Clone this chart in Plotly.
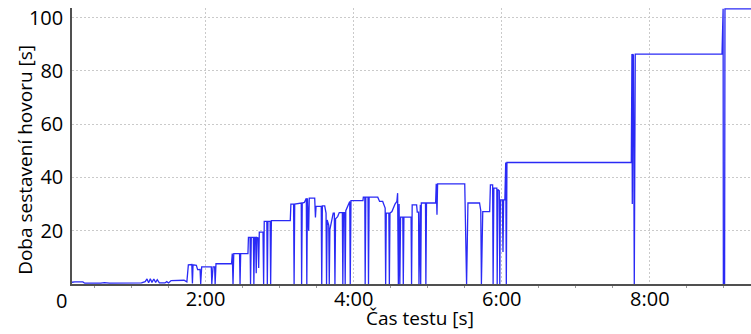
import plotly.graph_objects as go

# Call setup duration over the course of the test (both in seconds)
time_s = [
    11.0, 14.0, 20.5, 22.0, 35.0, 38.0, 42.0, 52.0, 58.0, 64.0, 68.0, 71.0,
    72.5, 73.8, 75.2, 76.5, 78.0, 79.5, 80.8, 82.5, 87.0, 88.5, 90.0, 92.0,
    102.5, 104.8,
    106.0, 108.8, 109.3, 109.8, 112.5, 113.5, 115.5, 116.0, 116.8, 124.6,
    125.0, 126.0, 127.3, 127.7, 128.4, 141.0, 141.6, 142.2, 142.8, 147.5,
    147.9, 148.4, 154.3, 154.7, 156.0, 156.4, 157.0, 158.7, 159.1, 159.6,
    160.5, 161.0, 161.5, 162.5, 163.0, 163.5, 166.5, 167.0, 167.5, 169.6,
    170.0, 170.5, 172.3, 172.7, 173.3, 188.6, 189.1, 191.3, 191.7, 192.2,
    196.0,
    197.5, 197.8, 198.3, 200.0, 201.0, 201.6, 202.0, 202.5, 203.5, 204.0,
    208.4, 209.0, 209.5, 213.7, 214.1, 214.6, 216.5, 217.6, 218.0, 218.5,
    219.8, 220.2, 220.7, 222.0, 223.4, 224.3, 224.8, 225.3, 227.0, 228.3,
    230.8, 231.2, 231.7, 232.7, 233.1, 233.6, 236.2, 236.8, 237.2, 237.8,
    247.5, 247.8, 249.0, 249.3, 249.8, 251.6, 252.0, 252.5, 259.5, 261.0,
    263.5, 265.5, 265.9, 266.4, 268.5, 268.9, 269.4, 271.0, 273.5, 275.0,
    275.6, 276.2, 276.8, 277.4, 278.0, 279.8, 280.2, 280.7, 286.5, 286.9,
    287.4, 291.0, 291.5, 292.6, 292.9, 293.4, 294.0, 294.3, 294.8, 298.2,
    298.5, 299.0, 306.4, 306.9, 307.5, 308.0, 330.0, 331.5, 332.6, 342.0,
    343.0, 343.5, 344.6, 350.2, 350.8, 352.6, 353.0, 353.6, 356.0, 356.3,
    356.8, 358.0, 358.4, 358.9, 360.5, 361.0, 361.5, 362.5, 363.2, 363.7,
    364.2,
    465.0, 465.5, 465.8, 466.1, 466.4, 466.7, 467.4, 468.2,
    538.5, 538.8, 539.4, 539.6, 540.6, 540.9, 563.0,
]

setup_s = [
    0.6, 0.8, 0.8, 0.3, 0.3, 0.5, 0.3, 0.4, 0.3, 0.5, 0.4, 0.9,
    1.9, 0.5, 2.0, 0.6, 1.9, 0.6, 1.6, 0.4, 0.4, 0.9, 0.4, 1.3,
    1.4, 0.8,
    7.2, 7.3, 0.2, 7.2, 7.0, 5.4, 5.5, 0.0, 6.4, 6.4,
    0.0, 6.4, 6.4, 0.0, 7.6, 7.6, 11.4, 0.0, 11.4, 11.4,
    0.0, 11.4, 11.4, 17.5, 17.5, 0.0, 17.5, 17.5, 0.0, 17.5,
    17.5, 4.0, 17.5, 17.3, 6.0, 19.5, 19.5, 0.0, 23.5, 23.5,
    0.0, 23.5, 23.5, 0.0, 23.8, 23.8, 30.0, 30.0, 0.0, 30.0,
    30.2,
    30.4, 0.0, 30.4, 30.6, 32.2, 32.2, 0.0, 32.2, 20.0, 32.2,
    32.2, 25.0, 29.1, 29.1, 0.0, 29.3, 29.3, 26.6, 0.0, 24.0,
    22.0, 0.0, 20.4, 24.0, 26.6, 26.6, 0.0, 24.5, 25.3, 26.8,
    26.8, 0.0, 26.8, 26.8, 0.0, 27.5, 31.0, 31.0, 0.0, 31.3,
    31.3, 32.6, 32.6, 0.0, 32.6, 32.6, 0.0, 32.6, 32.6, 31.0,
    31.0, 28.5, 0.0, 26.6, 26.6, 0.0, 26.6, 27.2, 30.0, 31.0,
    34.1, 0.0, 30.0, 0.0, 25.1, 25.1, 0.0, 25.1, 25.1, 0.0,
    29.7, 29.7, 27.0, 27.0, 0.0, 29.7, 29.7, 0.0, 30.4, 30.4,
    0.0, 30.4, 30.4, 37.6, 26.0, 37.6, 37.6, 0.0, 30.4, 30.4,
    27.5, 0.0, 27.2, 27.2, 37.2, 37.2, 0.0, 36.0, 36.0, 0.0,
    35.5, 35.0, 0.0, 31.6, 31.6, 12.0, 31.6, 31.6, 45.6, 0.0,
    45.6,
    45.6, 86.3, 30.0, 86.3, 40.0, 86.0, 0.0, 86.3,
    86.3, 103.3, 103.3, 0.0, 0.0, 103.3, 103.3,
]

x_tick_vals = [120, 240, 360, 480]
x_tick_text = ["2:00", "4:00", "6:00", "8:00"]
y_tick_vals = [20, 40, 60, 80, 100]
minor_x_vals = [30, 60, 90, 150, 180, 210, 270, 300, 330, 390, 420, 450, 510, 540]

x_range = [11.7, 562.0]
y_range = [0, 103.6]

FONT = "Open Sans"
TICK_SIZE = 20
TITLE_SIZE = 19
GRID = "#cacaca"

fig = go.Figure()
fig.add_trace(go.Scatter(
    x=time_s, y=setup_s, mode="lines",
    line=dict(color="#2a2af5", width=1.3),
    showlegend=False,
))

fig.update_layout(
    width=751, height=334,
    margin=dict(l=72, r=0, t=8, b=50),
    paper_bgcolor="white", plot_bgcolor="white",
    font=dict(family=FONT, size=TICK_SIZE, color="black"),
)

fig.update_xaxes(
    range=x_range,
    tickvals=x_tick_vals, ticktext=x_tick_text,
    showgrid=True, gridcolor=GRID, griddash="2px,2px", gridwidth=1,
    showline=True, linecolor="#505050", linewidth=1.5,
    ticks="", ticklabelstandoff=-4,
    minor=dict(tickvals=minor_x_vals, ticks="outside", ticklen=2,
               tickcolor="#9a9a9a", showgrid=False),
    zeroline=False,
    tickfont=dict(size=TICK_SIZE),
)

fig.update_yaxes(
    range=y_range,
    tickvals=y_tick_vals,
    showgrid=True, gridcolor=GRID, griddash="2px,2px", gridwidth=1,
    showline=True, linecolor="#505050", linewidth=1.5,
    ticks="", ticklabelstandoff=3,
    zeroline=False,
    tickfont=dict(size=TICK_SIZE),
)

# The zero label of the vertical axis sits just below the corner
fig.add_annotation(
    x=0, xref="paper", y=0, yref="y",
    text="0", showarrow=False, xanchor="right", yanchor="top",
    xshift=-3, yshift=-1, font=dict(size=TICK_SIZE, family=FONT, color="black"),
)

# Axis titles
fig.add_annotation(
    x=293.6, xref="x", y=0, yref="paper",
    text="Čas testu [s]", showarrow=False, xanchor="center", yanchor="middle",
    yshift=-34, font=dict(size=TITLE_SIZE, family=FONT, color="black"),
)
fig.add_annotation(
    x=0, xref="paper", y=46.6, yref="y",
    text="Doba sestavení hovoru [s]", showarrow=False, textangle=-90,
    xanchor="center", yanchor="middle", xshift=-47,
    font=dict(size=TITLE_SIZE, family=FONT, color="black"),
)

fig.write_html("out.html")
